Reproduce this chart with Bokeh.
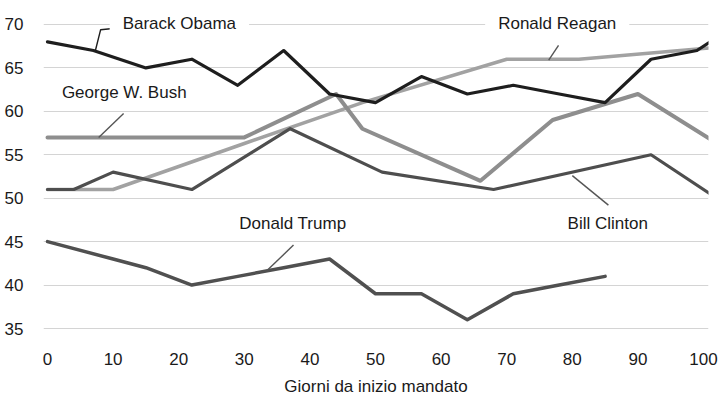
from bokeh.plotting import figure
from bokeh.models import Range1d, FixedTicker, Label
from bokeh.embed import file_html
from bokeh.resources import INLINE

# Approval ratings (%) by day since inauguration
obama_days = [0, 7, 15, 22, 29, 36, 43, 50, 57, 64, 71, 78, 85, 92, 99, 101]
obama_vals = [68, 67, 65, 66, 63, 67, 62, 61, 64, 62, 63, 62, 61, 66, 67, 68]

bush_days = [0, 30, 44, 48, 66, 77, 90, 101]
bush_vals = [57, 57, 62, 58, 52, 59, 62, 56.8]

reagan_days = [0, 10, 30, 48, 70, 81, 101]
reagan_vals = [51, 51, 56.3, 61, 66, 66, 67.3]

clinton_days = [0, 4, 10, 22, 37, 51, 68, 92, 101]
clinton_vals = [51, 51, 53, 51, 58, 53, 51, 55, 50.5]

trump_days = [0, 10, 15, 22, 29, 36, 43, 50, 57, 64, 71, 78, 85]
trump_vals = [45, 43, 42, 40, 41, 42, 43, 39, 39, 36, 39, 40, 41]

x_ticks = [0, 10, 20, 30, 40, 50, 60, 70, 80, 90, 100]
y_ticks = [35, 40, 45, 50, 55, 60, 65, 70]

# Name labels: (text, x, y) and leader segments in data units
names = [
    ("Barack Obama", 20.1, 70.1),
    ("George W. Bush", 11.7, 62.2),
    ("Ronald Reagan", 77.7, 70.1),
    ("Donald Trump", 37.4, 47.1),
    ("Bill Clinton", 85.4, 47.1),
]
leaders = [
    ([7.3, 8.1, 9.6], [67.0, 69.4, 69.5], "#1e1e1e"),
    ([11.6, 7.8], [59.75, 57.0], "#555555"),
    ([77.9, 76.4], [67.6, 65.9], "#555555"),
    ([37.5, 33.5], [44.6, 41.7], "#555555"),
    ([80.0, 85.5], [52.6, 49.2], "#555555"),
]

FONT = "Liberation Sans"
TEXT = "#1a1a1a"

p = figure(width=721, height=399, output_backend="svg", toolbar_location=None,
           x_range=Range1d(-0.61, 100.76), y_range=Range1d(34.54, 72.76),
           min_border_left=43, min_border_right=13, min_border_top=0,
           min_border_bottom=67)
p.outline_line_color = None
p.background_fill_color = "white"
p.border_fill_color = "white"

p.xgrid.visible = False
p.ygrid.grid_line_color = "#d4d4d4"
p.ygrid.grid_line_width = 1.2
p.ygrid.ticker = FixedTicker(ticks=y_ticks)

for ax in (p.xaxis, p.yaxis):
    ax.axis_line_color = None
    ax.major_tick_line_color = None
    ax.minor_tick_line_color = None
    ax.major_label_text_font = FONT
    ax.major_label_text_font_size = "17px"
    ax.major_label_text_color = TEXT

p.xaxis.ticker = FixedTicker(ticks=x_ticks)
p.yaxis.ticker = FixedTicker(ticks=y_ticks)
p.yaxis.major_label_standoff = 14
p.xaxis.major_label_standoff = 14
p.xaxis.axis_label = "Giorni da inizio mandato"
p.xaxis.axis_label_text_font = FONT
p.xaxis.axis_label_text_font_size = "17px"
p.xaxis.axis_label_text_font_style = "normal"
p.xaxis.axis_label_text_color = TEXT
p.xaxis.axis_label_standoff = 9

common = dict(line_join="round", line_cap="round")
p.line(reagan_days, reagan_vals, line_color="#a2a2a2", line_width=3.5, **common)
p.line(bush_days, bush_vals, line_color="#8e8e8e", line_width=4, **common)
p.line(clinton_days, clinton_vals, line_color="#4e4e4e", line_width=3.2, **common)
p.line(trump_days, trump_vals, line_color="#505050", line_width=3.5, **common)
p.line(obama_days, obama_vals, line_color="#1e1e1e", line_width=3.2, **common)

for xs, ys, col in leaders:
    p.line(xs, ys, line_color=col, line_width=1.4)

for text, x, y in names:
    p.add_layout(Label(x=x, y=y, text=text, text_align="center",
                       text_baseline="middle", text_font=FONT,
                       text_font_size="17px", text_color=TEXT,
                       background_fill_color="white",
                       padding=dict(left=13, right=13, top=1, bottom=1)))

open("out.html", "w").write(file_html(p, INLINE))
